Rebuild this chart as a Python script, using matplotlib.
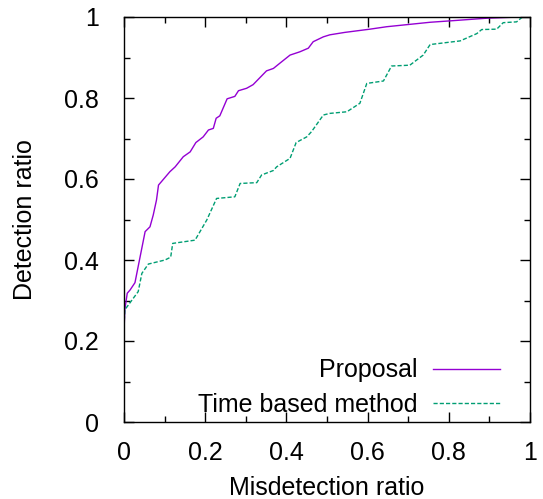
import matplotlib.pyplot as plt

plt.rcParams['font.family'] = ['Liberation Sans', 'DejaVu Sans']

# Proposal curve
prop_x = [0, 0.002, 0.008, 0.015, 0.027, 0.052, 0.064, 0.072, 0.08, 0.085,
          0.113, 0.126, 0.146, 0.163, 0.177, 0.195, 0.208, 0.22, 0.227, 0.236,
          0.254, 0.273, 0.282, 0.302, 0.318, 0.351, 0.368, 0.384, 0.409, 0.433,
          0.454, 0.466, 0.491, 0.507, 0.544, 0.606, 0.647, 0.754, 0.811, 0.893,
          0.975, 1.0]
prop_y = [0.223, 0.277, 0.318, 0.326, 0.344, 0.47, 0.482, 0.511, 0.548, 0.585,
          0.618, 0.63, 0.655, 0.667, 0.69, 0.704, 0.721, 0.725, 0.75, 0.756,
          0.798, 0.804, 0.818, 0.824, 0.833, 0.867, 0.873, 0.886, 0.906, 0.914,
          0.923, 0.939, 0.951, 0.956, 0.962, 0.97, 0.976, 0.987, 0.991, 0.997,
          1.0, 1.0]

# Time based method curve
time_x = [0, 0.002, 0.035, 0.044, 0.06, 0.101, 0.115, 0.12, 0.175, 0.204,
          0.228, 0.273, 0.286, 0.327, 0.339, 0.368, 0.376, 0.409, 0.424, 0.45,
          0.462, 0.491, 0.507, 0.549, 0.581, 0.598, 0.639, 0.659, 0.704, 0.737,
          0.754, 0.828, 0.869, 0.881, 0.918, 0.934, 0.967, 0.98, 1.0]
time_y = [0.235, 0.277, 0.322, 0.367, 0.39, 0.4, 0.407, 0.441, 0.449, 0.499,
          0.552, 0.556, 0.589, 0.591, 0.61, 0.621, 0.63, 0.651, 0.69, 0.704,
          0.717, 0.758, 0.762, 0.766, 0.787, 0.836, 0.842, 0.879, 0.881, 0.906,
          0.932, 0.941, 0.959, 0.969, 0.97, 0.986, 0.988, 0.999, 1.0]

ticks = [0, 0.2, 0.4, 0.6, 0.8, 1]
tick_labels = ['0', '0.2', '0.4', '0.6', '0.8', '1']
fs = 18

fig = plt.figure(figsize=(5.43, 4.99), dpi=100)
ax = fig.add_axes([124/543, 1-422/499, 406/543, 405/499])

ax.plot(prop_x, prop_y, color='#9400D3', lw=1.0, label='Proposal')
ax.plot(time_x, time_y, color='#009E73', lw=1.0, ls=(0, (3, 1.5)), label='Time based method')

ax.set_xlim(0, 1)
ax.set_ylim(0, 1)
ax.set_xticks(ticks)
ax.set_xticklabels(tick_labels)
ax.set_yticks(ticks)
ax.set_yticklabels(tick_labels)
ax.set_xticks([0.1, 0.3, 0.5, 0.7, 0.9], minor=True)
ax.set_yticks([0.1, 0.3, 0.5, 0.7, 0.9], minor=True)
ax.tick_params(which='both', direction='in', top=True, right=True, labelsize=fs, width=1.0)
ax.tick_params(axis='y', which='major', length=7, pad=18)
ax.tick_params(axis='x', which='major', length=7, pad=14)
ax.tick_params(which='minor', length=4)
for s in ax.spines.values():
    s.set_linewidth(1.0)

ax.set_xlabel('Misdetection ratio', fontsize=fs)
ax.set_ylabel('Detection ratio', fontsize=fs)
ax.xaxis.set_label_coords(0.5, -0.133)
ax.yaxis.set_label_coords(-0.214, 0.5)

ax.legend(loc='lower right', bbox_to_anchor=(0.95, -0.012), frameon=False, markerfirst=False,
          fontsize=fs, handlelength=2.65, handletextpad=0.63, labelspacing=0.42,
          borderaxespad=0)

plt.savefig('out.png', dpi=100)
